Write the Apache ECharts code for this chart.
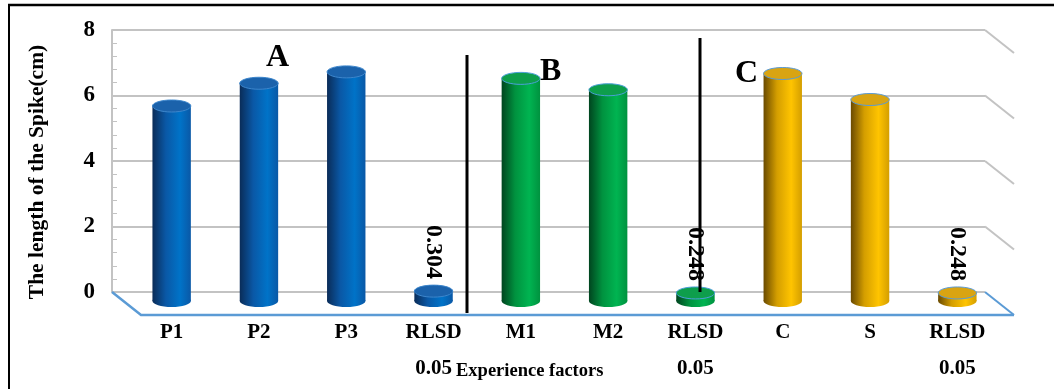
<!DOCTYPE html>
<html>
<head>
<meta charset="utf-8">
<script src="https://cdn.jsdelivr.net/npm/echarts@6/dist/echarts.min.js"></script>
<style>
  html, body { margin: 0; padding: 0; background: #fff; }
  #chart { width: 1054px; height: 389px; }
</style>
</head>
<body>
<div id="chart"></div>
<script>
// Spike length (cm) by experiment factor
const categories = ['P1', 'P2', 'P3', 'RLSD\n0.05', 'M1', 'M2', 'RLSD\n0.05', 'C', 'S', 'RLSD\n0.05'];
const spikeLength = [6.0, 6.7, 7.05, 0.304, 6.85, 6.5, 0.248, 7.0, 6.2, 0.248];
const factorGroup = [0, 0, 0, 0, 1, 1, 1, 2, 2, 2];
const labelledBars = [3, 6, 9];
const yTicks = [0, 2, 4, 6, 8];
const groupNames = ['A', 'B', 'C'];

const SERIF = '"Liberation Serif", "Times New Roman", serif';

// cylinder colours per factor group
const palettes = [
  { edge: '#0a2c58', mid: '#0a58a6', light: '#0073c8', top: '#1b62ab', rim: '#3d86cc' },
  { edge: '#00451f', mid: '#00923f', light: '#00b451', top: '#0e9e4c', rim: '#4b9fd8' },
  { edge: '#6a4a00', mid: '#d49e00', light: '#ffc400', top: '#d9a412', rim: '#5b9bd5' }
];

// depth of the floor / side walls
const DEPTH_X = 29, DEPTH_Y = 23;

function renderCylinder(params, api) {
  const i = params.dataIndex;
  const top = api.coord([api.value(0), api.value(1)]);
  const base = api.coord([api.value(0), 0]);
  const bw = api.size([1, 0])[0] * 0.44;
  const rx = bw / 2, ry = 6;
  const p = palettes[factorGroup[i]];
  const grad = new echarts.graphic.LinearGradient(0, 0, 1, 0, [
    { offset: 0, color: p.edge },
    { offset: 0.35, color: p.mid },
    { offset: 0.72, color: p.light },
    { offset: 1, color: p.mid }
  ]);
  const children = [
    { type: 'ellipse', shape: { cx: base[0], cy: base[1], rx: rx, ry: ry }, style: { fill: grad } },
    { type: 'rect', shape: { x: base[0] - rx, y: top[1], width: bw, height: base[1] - top[1] }, style: { fill: grad } },
    { type: 'ellipse', shape: { cx: top[0], cy: top[1], rx: rx, ry: ry }, style: { fill: p.top, stroke: p.rim, lineWidth: 1 } }
  ];
  if (labelledBars.indexOf(i) >= 0) {
    children.push({
      type: 'text', x: top[0], y: top[1] - 12, rotation: -Math.PI / 2, z2: 5,
      style: {
        text: String(spikeLength[i]), align: 'right', verticalAlign: 'middle',
        font: 'bold 24px ' + SERIF, fill: '#000'
      }
    });
  }
  return { type: 'group', children: children };
}

// side-wall slants for each gridline plus the blue floor outline
function renderWalls(params, api) {
  const cs = params.coordSys;
  const y = api.coord([0, api.value(0)])[1];
  const xr = cs.x + cs.width;
  const isFloor = api.value(0) === 0;
  const children = [{
    type: 'line',
    shape: { x1: xr, y1: y, x2: xr + DEPTH_X, y2: y + DEPTH_Y },
    style: { stroke: isFloor ? '#5b9bd5' : '#c3c3c3', lineWidth: 2 }
  }];
  if (isFloor) {
    children.push({
      type: 'polyline',
      shape: { points: [[cs.x, y], [cs.x + DEPTH_X, y + DEPTH_Y], [xr + DEPTH_X, y + DEPTH_Y]] },
      style: { stroke: '#5b9bd5', lineWidth: 2.5, fill: null }
    });
  }
  return { type: 'group', children: children };
}

const chart = echarts.init(document.getElementById('chart'));
chart.setOption({
  animation: false,
  backgroundColor: '#fff',
  grid: [
    { left: 128, right: 53, top: 41, bottom: 88 },   // cylinders
    { left: 112, right: 69, top: 30, bottom: 97 }    // back wall
  ],
  xAxis: [
    {
      gridIndex: 0, type: 'category', data: categories,
      axisLine: { show: false }, axisTick: { show: false },
      axisLabel: {
        interval: 0, margin: 14, color: '#000', fontFamily: SERIF,
        fontWeight: 'bold', fontSize: 21, lineHeight: 36
      }
    },
    {
      gridIndex: 1, type: 'category', data: categories, show: false
    }
  ],
  yAxis: [
    { gridIndex: 0, type: 'value', min: 0, max: 8, interval: 2, show: false },
    {
      gridIndex: 1, type: 'value', min: 0, max: 8, interval: 2,
      name: 'The length of the Spike(cm)', nameLocation: 'middle', nameGap: 64,
      nameRotate: 90,
      nameTextStyle: {
        color: '#000', fontFamily: SERIF, fontWeight: 'bold', fontSize: 21.5,
        padding: [0, 22, 0, 0]
      },
      axisLine: { show: true, lineStyle: { color: '#c3c3c3', width: 2 } },
      axisTick: { show: true, inside: true, length: 5, lineStyle: { color: '#c3c3c3' } },
      minorTick: { show: true, splitNumber: 5, length: 5, lineStyle: { color: '#c3c3c3' } },
      splitLine: { show: true, lineStyle: { color: '#c3c3c3', width: 2 } },
      axisLabel: { margin: 17, color: '#000', fontFamily: SERIF, fontWeight: 'bold', fontSize: 23 }
    }
  ],
  series: [
    {
      type: 'custom', xAxisIndex: 1, yAxisIndex: 1, z: 1,
      data: yTicks.map(v => [v]), renderItem: renderWalls, silent: true
    },
    {
      type: 'custom', xAxisIndex: 0, yAxisIndex: 0, z: 3,
      data: spikeLength.map((v, i) => [i, v]), renderItem: renderCylinder,
      encode: { x: 0, y: 1 }
    }
  ],
  graphic: [
    // page frame
    { type: 'line', z: 20, shape: { x1: 8, y1: 5, x2: 1054, y2: 5 }, style: { stroke: '#000', lineWidth: 2.5 } },
    { type: 'line', z: 20, shape: { x1: 9, y1: 5, x2: 9, y2: 389 }, style: { stroke: '#000', lineWidth: 2 } },
    // factor separators
    { type: 'line', z: 20, shape: { x1: 467, y1: 55, x2: 467, y2: 313 }, style: { stroke: '#000', lineWidth: 3 } },
    { type: 'line', z: 20, shape: { x1: 700, y1: 38, x2: 700, y2: 292 }, style: { stroke: '#000', lineWidth: 3 } },
    // factor group letters
    { type: 'text', z: 2, left: 266, top: 42, style: { text: groupNames[0], font: 'bold 32px ' + SERIF, fill: '#000' } },
    { type: 'text', z: 2, left: 540, top: 56, style: { text: groupNames[1], font: 'bold 32px ' + SERIF, fill: '#000' } },
    { type: 'text', z: 2, left: 735, top: 58, style: { text: groupNames[2], font: 'bold 32px ' + SERIF, fill: '#000' } },
    // x axis title
    { type: 'text', z: 20, left: 456, top: 362, style: { text: 'Experience factors', font: 'bold 18.5px ' + SERIF, fill: '#000' } }
  ]
});
</script>
</body>
</html>
